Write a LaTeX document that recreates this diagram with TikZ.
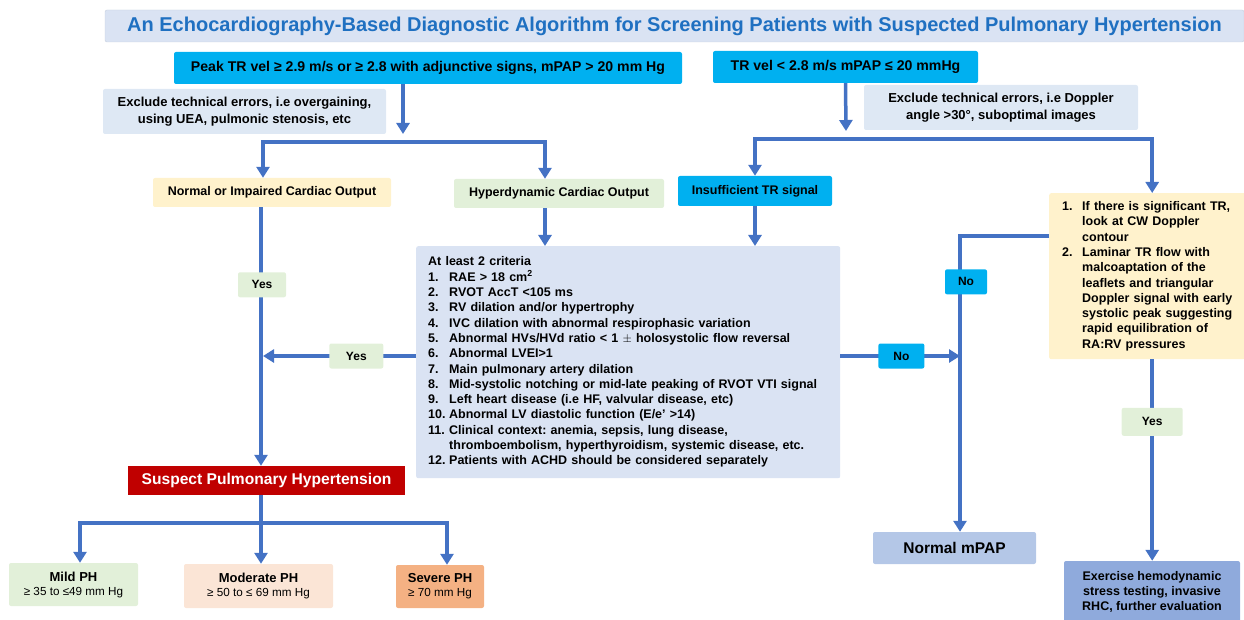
\documentclass[tikz,border=0pt]{standalone}
\usepackage{fontspec}
\setmainfont{Liberation Sans}
\usetikzlibrary{arrows.meta}
\frenchspacing

\definecolor{flowblue}{HTML}{4472C4}
\definecolor{titlebg}{HTML}{DAE3F3}
\definecolor{titleline}{HTML}{C5CEDD}
\definecolor{titleblue}{HTML}{1F70C1}
\definecolor{tealbox}{HTML}{00B0F0}
\definecolor{notebg}{HTML}{DEE8F4}
\definecolor{creambox}{HTML}{FFF2CC}
\definecolor{mintbox}{HTML}{E2F0D9}
\definecolor{critbg}{HTML}{DAE3F3}
\definecolor{alertred}{HTML}{C00000}
\definecolor{peachbox}{HTML}{FBE5D6}
\definecolor{orangebox}{HTML}{F4B183}
\definecolor{mpapbox}{HTML}{B4C7E7}
\definecolor{rhcbox}{HTML}{8FAADC}

\begin{document}
\begin{tikzpicture}[x=1pt, y=-1pt, >={Triangle[length=11pt,width=13pt]},
	flow/.style={draw=flowblue, line width=3.5pt},
	box/.style={rounded corners=2pt, inner sep=0pt, align=center, font=\bfseries\fontsize{12.5}{15}\selectfont},
	tag/.style={box, font=\bfseries\fontsize{12}{14}\selectfont, minimum width=48pt, minimum height=25pt},
	yesbox/.style={tag, fill=mintbox},
	nobox/.style={tag, fill=tealbox}]
	\useasboundingbox (0,0) rectangle (1244,620);

	% boxes
	\node[box, fill=titlebg, draw=titleline, text=titleblue, minimum width=1139pt, minimum height=32pt, font=\bfseries\fontsize{20}{23}\selectfont] (title) at (674.5,26) {An Echocardiography-Based Diagnostic Algorithm for Screening Patients with Suspected Pulmonary Hypertension};
	\node[box, fill=tealbox, minimum width=508pt, minimum height=32pt, font=\bfseries\fontsize{14.1}{16}\selectfont] (boxA) at (428,68) {Peak TR vel ≥ 2.9 m/s or ≥ 2.8 with adjunctive signs, mPAP > 20 mm Hg};
	\node[box, fill=tealbox, minimum width=265pt, minimum height=32pt, font=\bfseries\fontsize{14.1}{16}\selectfont] (boxB) at (845.5,67) {TR vel < 2.8 m/s mPAP ≤ 20 mmHg};
	\node[box, fill=notebg, minimum width=283pt, minimum height=45pt, font=\bfseries\fontsize{13}{17}\selectfont] (noteA) at (244.5,111.5) {Exclude technical errors, i.e overgaining,\\using UEA, pulmonic stenosis, etc};
	\node[box, fill=notebg, minimum width=274pt, minimum height=45pt, font=\bfseries\fontsize{13}{17}\selectfont] (noteB) at (1001,107.5) {Exclude technical errors, i.e Doppler\\angle >30°, suboptimal images};
	\node[box, fill=creambox, minimum width=238pt, minimum height=29pt] (normal) at (272,192.5) {Normal or Impaired Cardiac Output};
	\node[box, fill=mintbox, minimum width=210pt, minimum height=29pt] (hyper) at (559,193.5) {Hyperdynamic Cardiac Output};
	\node[box, fill=tealbox, minimum width=154pt, minimum height=30pt] (insuff) at (755,191) {Insufficient TR signal};
	\node[box, fill=creambox, anchor=north west, align=left, text width=180pt, inner xsep=13pt, minimum height=166pt, font=\bfseries\fontsize{12.5}{15.3}\selectfont] (tips) at (1049,193)
	{
		\makebox[20pt][l]{1.}If there is significant TR,\\
		\hspace*{20pt}look at CW Doppler\\
		\hspace*{20pt}contour\\
		\makebox[20pt][l]{2.}Laminar TR flow with\\
		\hspace*{20pt}malcoaptation of the\\
		\hspace*{20pt}leaflets and triangular\\
		\hspace*{20pt}Doppler signal with early\\
		\hspace*{20pt}systolic peak suggesting\\
		\hspace*{20pt}rapid equilibration of\\
		\hspace*{20pt}RA:RV pressures
	};
	\node[box, fill=critbg, anchor=north west, align=left, text width=400pt, inner xsep=12pt, minimum height=232pt, font=\bfseries\fontsize{12.5}{15.3}\selectfont] (criteria) at (416,246)
	{
		At least 2 criteria\\
		\makebox[21pt][l]{1.}RAE > 18 cm\textsuperscript{2}\\
		\makebox[21pt][l]{2.}RVOT AccT <105 ms\\
		\makebox[21pt][l]{3.}RV dilation and/or hypertrophy\\
		\makebox[21pt][l]{4.}IVC dilation with abnormal respirophasic variation\\
		\makebox[21pt][l]{5.}Abnormal HVs/HVd ratio < 1 $\pm$ holosystolic flow reversal\\
		\makebox[21pt][l]{6.}Abnormal LVEI>1\\
		\makebox[21pt][l]{7.}Main pulmonary artery dilation\\
		\makebox[21pt][l]{8.}Mid-systolic notching or mid-late peaking of RVOT VTI signal\\
		\makebox[21pt][l]{9.}Left heart disease (i.e HF, valvular disease, etc)\\
		\makebox[21pt][l]{10.}Abnormal LV diastolic function (E/e' >14)\\
		\makebox[21pt][l]{11.}Clinical context: anemia, sepsis, lung disease,\\
		\hspace*{21pt}thromboembolism, hyperthyroidism, systemic disease, etc.\\
		\makebox[21pt][l]{12.}Patients with ACHD should be considered separately
	};
	\node[box, fill=alertred, text=white, rounded corners=0pt, minimum width=277pt, minimum height=29pt, font=\bfseries\fontsize{15.6}{18}\selectfont] (suspect) at (266.5,480.5) {Suspect Pulmonary Hypertension};
	\node[box, fill=mintbox, minimum width=129pt, minimum height=43pt, font=\bfseries\fontsize{13}{14}\selectfont] (mild) at (73.5,584.5) {Mild PH\\{\mdseries\fontsize{11.7}{13}\selectfont ≥ 35 to ≤49 mm Hg}};
	\node[box, fill=peachbox, minimum width=149pt, minimum height=44pt, font=\bfseries\fontsize{13}{14}\selectfont] (moderate) at (258.5,586) {Moderate PH\\{\mdseries\fontsize{11.7}{13}\selectfont ≥ 50 to ≤ 69 mm Hg}};
	\node[box, fill=orangebox, minimum width=88pt, minimum height=43pt, font=\bfseries\fontsize{13}{14}\selectfont] (severe) at (440,586.5) {Severe PH\\{\mdseries\fontsize{11.7}{13}\selectfont ≥ 70 mm Hg}};
	\node[box, fill=mpapbox, minimum width=163pt, minimum height=32pt, font=\bfseries\fontsize{15.5}{18}\selectfont] (normalmpap) at (954.5,548) {Normal mPAP};
	\node[box, fill=rhcbox, minimum width=176pt, minimum height=62pt, font=\bfseries\fontsize{12.5}{15}\selectfont] (exercise) at (1152,592) {Exercise hemodynamic\\stress testing, invasive\\RHC, further evaluation};

	\coordinate (forkA) at (403,142);
	\coordinate (forkB) at (846,139);
	\coordinate (forkC) at (261,523);
	\coordinate (colL) at (261,356);
	\coordinate (colR) at (960,236);

	% connectors
	\draw[flow,->] (boxA.south -| forkA) -- ([yshift=8pt]forkA);
	\draw[flow,<->] ([xshift=-9pt]normal.north) |- (forkA) -| ([xshift=-14pt]hyper.north);
	\draw[flow,->] (boxB.south) -- ([yshift=8pt]forkB);
	\draw[flow,<->] (insuff.north) |- (forkB) -| (tips.north);
	\draw[flow,->] ([xshift=-14pt]hyper.south) -- ([xshift=-14pt]hyper.south |- criteria.north);
	\draw[flow,->] (insuff.south) -- (insuff.south |- criteria.north);
	\draw[flow,->] (normal.south -| colL) -- node[yesbox, pos=0.3, xshift=1pt] (yesA) {Yes} (suspect.north -| colL);
	\draw[flow,->] (criteria.west |- colL) -- node[yesbox, pos=0.39, minimum width=54pt] (yesB) {Yes} ([xshift=2pt]colL);
	\draw[flow,->] (criteria.east |- colL) -- node[nobox, pos=0.51, minimum width=46pt] (noA) {No} (colL -| colR);
	\draw[flow,->] (tips.west |- colR) -- (colR) -- node[nobox, pos=0.155, xshift=6pt, minimum width=42pt] (noB) {No} (colR |- normalmpap.north);
	\draw[flow,->] (tips.south) -- node[yesbox, pos=0.31, minimum width=61pt, minimum height=28pt] (yesC) {Yes} (tips.south |- exercise.north);
	\draw[flow,->] (suspect.south -| colL) -- (moderate.north -| colL);
	\draw[flow,<->] ([xshift=6.5pt]mild.north) |- (forkC) -| ([xshift=7pt]severe.north);
\end{tikzpicture}
\end{document}
